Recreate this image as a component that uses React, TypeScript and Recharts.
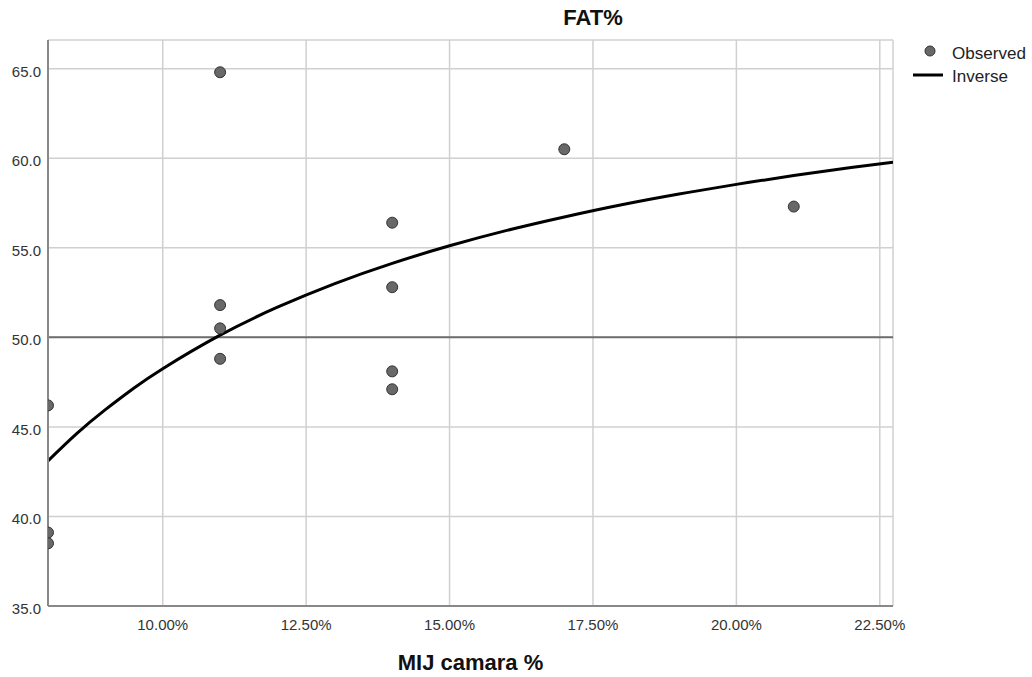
import { ComposedChart, Scatter, Line, XAxis, YAxis, CartesianGrid, ReferenceLine } from 'recharts';

// observed points (MIJ camara %, FAT%)
const obsX = [8, 8, 8, 11, 11, 11, 11, 14, 14, 14, 14, 17, 21];
const obsY = [46.2, 39.1, 38.5, 64.8, 51.8, 50.5, 48.8, 56.4, 52.8, 48.1, 47.1, 60.5, 57.3];

// inverse fit curve
const fitX = [8, 8.5, 9, 9.5, 10, 11, 12, 13, 14, 15, 16, 17, 18, 19, 20, 21, 22, 22.73];
const fitY = [43.1, 44.62, 45.96, 47.17, 48.25, 50.12, 51.68, 53.0, 54.13, 55.11, 55.97, 56.72, 57.4, 58.0, 58.54, 59.03, 59.48, 59.78];

const xTicks = [10, 12.5, 15, 17.5, 20, 22.5];
const yTicks = [35, 40, 45, 50, 55, 60, 65];

const observed = obsX.map((x, i) => ({ x, y: obsY[i] }));
const inverse = fitX.map((x, i) => ({ x, y: fitY[i] }));

const font = '"Liberation Sans", Arial, sans-serif';

const YTick = (props: any) => {
  const { x, y, payload } = props;
  return (
    <text x={x} y={y} dy={8} textAnchor="end" fontSize={15} fill="#333" fontFamily={font}>
      {payload.value.toFixed(1)}
    </text>
  );
};

const XTick = (props: any) => {
  const { x, y, payload } = props;
  return (
    <text x={x} y={y} dy={11} textAnchor="middle" fontSize={15} fill="#333" fontFamily={font}>
      {payload.value.toFixed(2)}%
    </text>
  );
};

export default function App() {
  return (
    <div style={{ position: 'absolute', left: 0, top: 0, width: 1032, height: 677, overflow: 'hidden', background: '#fff', fontFamily: font }}>
      <ComposedChart width={1032} height={677} margin={{ top: 40, right: 139, left: 0, bottom: 31 }}>
        <CartesianGrid stroke="#d0d0d0" strokeWidth={1.5} />
        <XAxis
          dataKey="x"
          type="number"
          domain={[8, 22.73]}
          ticks={xTicks}
          allowDataOverflow
          height={40}
          tickLine={false}
          tickSize={0}
          tickMargin={13}
          tick={<XTick />}
          axisLine={{ stroke: '#888', strokeWidth: 2 }}
        />
        <YAxis
          dataKey="y"
          type="number"
          domain={[35, 66.6]}
          ticks={yTicks}
          allowDataOverflow
          width={48}
          tickLine={false}
          tickSize={0}
          tickMargin={7}
          tick={<YTick />}
          axisLine={{ stroke: '#888', strokeWidth: 2 }}
        />
        <ReferenceLine y={50} stroke="#6e6e6e" strokeWidth={2} />
        <Line
          data={inverse}
          dataKey="y"
          type="natural"
          stroke="#000"
          strokeWidth={3}
          dot={false}
          activeDot={false}
          isAnimationActive={false}
        />
        <Scatter
          data={observed}
          dataKey="y"
          fill="#686868"
          stroke="#333"
          strokeWidth={1}
          shape={(p: any) => <circle cx={p.cx} cy={p.cy} r={5.5} fill="#686868" stroke="#333" strokeWidth={1} />}
          isAnimationActive={false}
        />
      </ComposedChart>

      <div style={{ position: 'absolute', left: 0, top: 5, width: 1186, textAlign: 'center', fontSize: 22, fontWeight: 'bold', color: '#111' }}>
        FAT%
      </div>
      <div style={{ position: 'absolute', left: 0, top: 650, width: 941, textAlign: 'center', fontSize: 22, fontWeight: 'bold', color: '#111' }}>
        MIJ camara %
      </div>

      <svg style={{ position: 'absolute', left: 900, top: 36 }} width={132} height={50}>
        <circle cx={30} cy={15} r={5} fill="#686868" stroke="#333" strokeWidth={1} />
        <text x={52} y={23} fontSize={17} fill="#222" fontFamily={font} textLength={74} lengthAdjust="spacingAndGlyphs">Observed</text>
        <line x1={13} x2={43} y1={39} y2={39} stroke="#000" strokeWidth={3} />
        <text x={52} y={46} fontSize={17} fill="#222" fontFamily={font} textLength={56} lengthAdjust="spacingAndGlyphs">Inverse</text>
      </svg>
    </div>
  );
}
